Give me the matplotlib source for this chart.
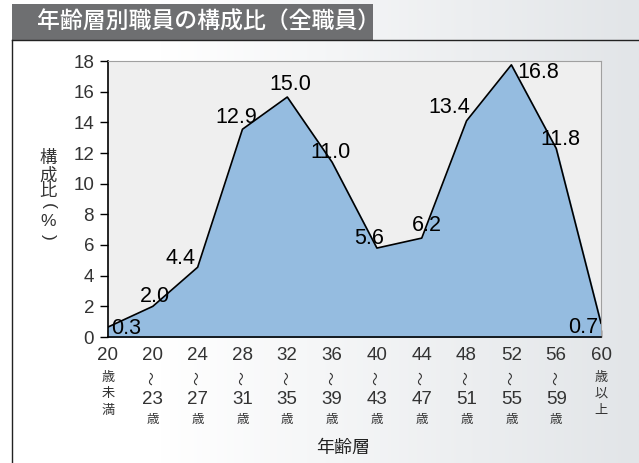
import numpy as np
import matplotlib
matplotlib.use("Agg")
import matplotlib.pyplot as plt
from matplotlib.colors import LinearSegmentedColormap
from matplotlib.patches import Rectangle
from matplotlib.lines import Line2D

plt.rcParams["font.family"] = ["Liberation Sans", "Noto Sans CJK JP", "DejaVu Sans"]

# ------- data ------- #
ageStarts = ["20", "20", "24", "28", "32", "36", "40", "44", "48", "52", "56", "60"]
ageEnds = ["", "23", "27", "31", "35", "39", "43", "47", "51", "55", "59", ""]
# printed share values (%)
shareLabels = [0.3, 2.0, 4.4, 12.9, 15.0, 11.0, 5.6, 6.2, 13.4, 16.8, 11.8, 0.7]
# heights of the polygon as it is drawn in the original
drawnHeights = [0.65, 2.0, 4.55, 13.55, 15.65, 11.4, 5.8, 6.45, 14.1, 17.75, 12.3, 0.9]
yTicks = [0, 2, 4, 6, 8, 10, 12, 14, 16, 18]

W, H = 639, 463
fig = plt.figure(figsize=(W / 100, H / 100), dpi=100)

def fx(px):
    return px / W

def fy(py):
    return 1 - py / H

# background: white on the left fading to light grey on the right
bg = fig.add_axes([0, 0, 1, 1], zorder=-10)
ramp = np.clip((np.linspace(0, 1, 256) - 0.25) / 0.75, 0, 1)
bgCmap = LinearSegmentedColormap.from_list("bg", ["#ffffff", "#e2e5e8"])
bg.imshow(ramp[np.newaxis, :], aspect="auto", cmap=bgCmap, extent=[0, 1, 0, 1])
bg.axis("off")

# frame and title banner
fig.add_artist(Line2D([fx(12), fx(12)], [0, fy(40)], color="#222222", lw=1))
fig.add_artist(Line2D([fx(12), 1], [fy(40), fy(40)], color="#222222", lw=1))
fig.add_artist(Rectangle((fx(12), fy(40)), fx(373 - 12), 36 / H,
                         facecolor="#6e6f71", edgecolor="none"))
fig.text(fx(37), fy(22), "年齢層別職員の構成比（全職員）", color="white",
         fontsize=16.5, fontweight="medium", va="center", ha="left",
         family=["Noto Sans CJK JP"])

ax = fig.add_axes([fx(108), fy(337), fx(601 - 108), (337 - 61) / H])
ax.set_facecolor("#efefef")
xs = np.arange(len(drawnHeights))
ax.fill_between(xs, drawnHeights, 0, color="#95bce0", zorder=2)
ax.plot(xs, drawnHeights, color="black", lw=1.2, zorder=3)

ax.set_xlim(0, len(xs) - 1)
ax.set_ylim(0, 18)
ax.set_yticks(yTicks)
ax.set_yticklabels([str(t) for t in yTicks], fontsize=13.5, color="#333333")
ax.tick_params(axis="y", direction="out", length=6, width=1, pad=4)
ax.set_xticks(xs)
ax.set_xticklabels([])
ax.tick_params(axis="x", direction="in", length=5, width=1)
for side in ["top", "right"]:
    ax.spines[side].set_color("#a0a0a0")
for side in ["left", "bottom"]:
    ax.spines[side].set_color("black")
    ax.spines[side].set_linewidth(1.2)

# value labels
labelOffsets = [(18, -1), (2, 10), (-17, 9), (-6, 12), (3, 13), (-2, 10),
                (-8, 10), (5, 13), (-17, 13), (27, -8), (4, 9), (-18, -4)]
for x, h, v, off in zip(xs, drawnHeights, shareLabels, labelOffsets):
    ax.annotate(f"{v:.1f}", xy=(x, h), xytext=off, textcoords="offset pixels",
                ha="center", va="center", fontsize=15.5, color="black", zorder=4)

# x tick labels (age bands)
xt = ax.get_xaxis_transform()
def tickText(x, dy, s, size, rot=0):
    ax.annotate(s, xy=(x, 0), xycoords=xt, xytext=(0, dy), textcoords="offset pixels",
                ha="center", va="center", fontsize=size, color="#333333",
                rotation=rot, annotation_clip=False)

for x, a, b in zip(xs, ageStarts, ageEnds):
    tickText(x, -18, a, 13.5)
    if b:
        tickText(x, -41, "〜", 10, rot=90)
        tickText(x, -63, b, 13.5)
        tickText(x, -83, "歳", 9)
    else:
        suffix = "歳未満" if x == 0 else "歳以上"
        for k, ch in enumerate(suffix):
            tickText(x, -41 - 16.5 * k, ch, 9.5)

fig.text(fx(343), fy(448), "年齢層", ha="center", va="center", fontsize=13,
         color="#222222")

# vertical y-axis label
for ch, py, rot in zip(["構", "成", "比", "(", "%", ")"],
                       [158, 176, 191, 206, 221, 237], [0, 0, 0, -90, 0, -90]):
    fig.text(fx(48), fy(py), ch, ha="center", va="center", fontsize=12.5,
             color="#333333", rotation=rot)

fig.savefig("out.png", dpi=100)
